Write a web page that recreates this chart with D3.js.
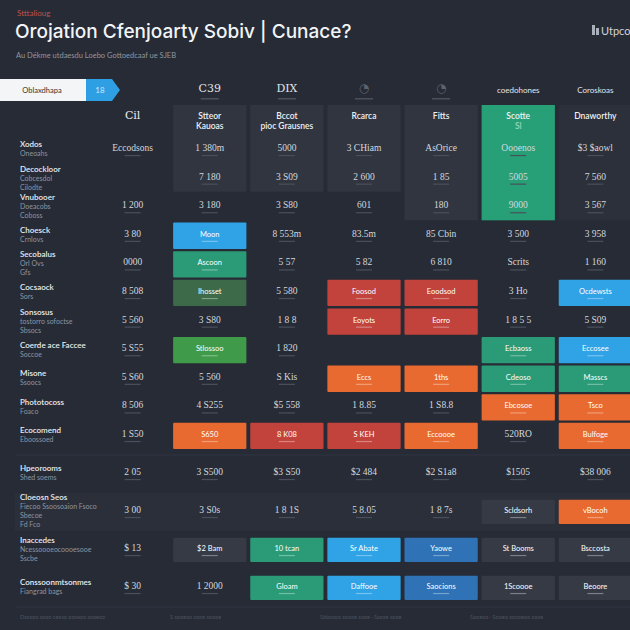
<!DOCTYPE html>
<html><head><meta charset="utf-8">
<script src="https://cdn.jsdelivr.net/npm/d3@7"></script>
<style>html,body{margin:0;padding:0;background:#262b36;}svg{display:block;}</style>
</head><body><div id="chart"></div>
<script>
// ---------- data ----------
const colNames = ["Cil", "Stteor|Kauoas", "Bccot|pioc Grausnes", "Rcarca", "Fitts", "Scotte|Sl", "Dnaworthy"];
const colTopLabels = ["", "C39", "DIX", "◔", "◔", "coedohones", "Coroskoas"];
const rowLabels = [
  ["Xodos", "Oneoahs"],
  ["Decockloor", "Cobcesdol", "Cilodte"],
  ["Vnubooer", "Doeacobs", "Coboss"],
  ["Choesck", "Crnlovs"],
  ["Secobalus", "Orl Ovs", "Gfs"],
  ["Cocsaock", "Sors"],
  ["Sonsosus", "tostorro sofoctse", "Sbsocs"],
  ["Coerde ace Faccee", "Soccoe"],
  ["Misone", "Ssoocs"],
  ["Phototocoss", "Foaco"],
  ["Ecocomend", "Eboossoed"],
  ["Hpeorooms", "Shed soems"],
  ["Cloeosn Seos", "Fiecoo Ssoosoaion Fsoco", "Sbecoe", "Fd Fco"],
  ["Inaccedes", "Ncessoooeocoooesooe", "Sscbe"],
  ["Conssoonmtsonmes", "Fiangrad bags"]
];
const cellValues = [
  ["Eccodsons", "1 380m", "5000", "3 CHiam", "AsOrice", "Oooenos", "$3 $aowl"],
  ["", "7 180", "3 S09", "2 600", "1 85", "5005", "7 560"],
  ["1 200", "3 180", "3 S80", "601", "180", "9000", "3 567"],
  ["3 80", "Moon", "8 553m", "83.5m", "85 Cbin", "3 500", "3 958"],
  ["0000", "Ascoon", "5 57", "5 82", "6 810", "Scrits", "1 160"],
  ["8 508", "Ihosset", "5 580", "Foosod", "Eoodsod", "3 Ho", "Ocdewsts"],
  ["5 560", "3 S80", "1 8 8", "Eoyots", "Eorro", "1 8 5 5", "5 S09"],
  ["5 S55", "Stlossoo", "1 820", "", "", "Ecbaoss", "Eccosee"],
  ["5 S60", "5 560", "S Kis", "Eccs", "1ths", "Cdeoso", "Masscs"],
  ["8 506", "4 S255", "$5 558", "1 8.85", "1 S8.8", "Ebcosoe", "Tsco"],
  ["1 S50", "S650", "8 K08", "S KEH", "Eccoooe", "520RO", "Bulfoge"],
  ["2 05", "3 S500", "$3 S50", "$2 484", "$2 S1a8", "$1505", "$38 006"],
  ["3 00", "3 S0s", "1 8 1S", "5 8.05", "1 8 7s", "Scldsorh", "vBocoh"],
  ["$ 13", "$2 Bam", "10 tcan", "Sr Abate", "Yaowe", "St Booms", "Bsccosta"],
  ["$ 30", "1 2000", "Gloam", "Daffooe", "Saocions", "1Scoooe", "Beoore"]
];
const cellFills = [
  ["", "p", "p", "p", "p", "G", "p2"],
  ["", "p", "p", "p", "p", "G", "p2"],
  ["", "", "", "", "p", "G", "p2"],
  ["", "b", "", "", "", "", ""],
  ["", "g", "", "", "", "", ""],
  ["", "dg", "", "r", "r", "", "b"],
  ["", "", "", "r", "r", "", ""],
  ["", "lg", "", "", "", "g", "b"],
  ["", "", "", "o", "o", "g", "g"],
  ["", "", "", "", "", "o", "o"],
  ["", "o", "r", "r", "o", "", "o"],
  ["", "", "", "", "", "", ""],
  ["", "", "", "", "", "k", "o"],
  ["", "k", "g", "b", "db", "k", "k"],
  ["", "", "g", "b", "db", "k", "k"]
];
const titleText = "Orojation Cfenjoarty Sobiv | Cunace?";
const kickerText = "Stttalioug";
const subtitleText = "Au Dékme utdaesdu Loebo Gottoedcaaf ue SJEB";
const toggleLabels = ["Oblaxdhapa", "18"];
const logoText = "Utpco";
const footerText = ["Dsosoo sooo ceoso ooseoo sooeoo", "S sooeoo sooe soooe", "Sbbosoo soooe sooe · Ssooe sooe", "Sooeoo · Sooeo soooeoo sooe"];

// ---------- styles ----------
const palette = {
  p: "#30353f", p2: "#2b303b", G: "#27a077",
  b: "#2fa3e6", g: "#2a9b76", dg: "#3d6a48", lg: "#3f9a4a",
  r: "#c2433c", o: "#e96a30", db: "#2f72b6", k: "#353a45"
};
const panelCodes = new Set(["p", "p2", "G"]);
const W = 630, H = 630;
const font = "Lato, 'Open Sans', sans-serif";
const valFont = "'Liberation Serif', 'DejaVu Serif', serif";

const svg = d3.select("#chart").append("svg").attr("width", W).attr("height", H);
svg.append("rect").attr("width", W).attr("height", H).attr("fill", "#262b36");

const rowKeys = rowLabels.map((d, i) => "r" + i);
const x = d3.scaleBand().domain(colNames).range([96, 632]).paddingInner(0.05);
const yTop = d3.scaleBand().domain(rowKeys.slice(0, 11)).range([136.8, 449.1]).paddingInner(0.08);
const yBot = d3.scaleBand().domain(rowKeys.slice(11)).range([461.8, 600.1]).paddingInner(0.36);
const yOf = k => yTop.domain().includes(k) ? yTop(k) : yBot(k);
const bwOf = k => yTop.domain().includes(k) ? yTop.bandwidth() : yBot.bandwidth();
const yc = k => yOf(k) + bwOf(k) / 2;

// ---------- header ----------
svg.append("text").attr("x", 17).attr("y", 16).attr("fill", "#c0524a").attr("font-size", 8).attr("font-family", font).text(kickerText);
svg.append("text").attr("x", 15).attr("y", 38).attr("fill", "#f2f4f7").attr("font-size", 19).attr("font-weight", 500)
  .attr("font-family", "Inter, 'Open Sans', sans-serif").text(titleText);
svg.append("text").attr("x", 16).attr("y", 58).attr("fill", "#9097a3").attr("font-size", 7.5).attr("font-family", font).text(subtitleText);
// logo
const logo = svg.append("g").attr("transform", "translate(592,33)");
logo.append("rect").attr("x", 0).attr("y", -8).attr("width", 3).attr("height", 10).attr("fill", "#aab0ba");
logo.append("rect").attr("x", 4).attr("y", -5).attr("width", 3).attr("height", 7).attr("fill", "#aab0ba");
logo.append("text").attr("x", 9).attr("y", 2).attr("fill", "#d0d4db").attr("font-size", 11).attr("font-family", font).text(logoText);

// toggle
svg.append("rect").attr("x", 0).attr("y", 79).attr("width", 86).attr("height", 22).attr("fill", "#f4f5f7");
svg.append("path").attr("d", "M86,79 H112 L120,90 L112,101 H86 Z").attr("fill", "#2f9fe4");
svg.append("text").attr("x", 42).attr("y", 93).attr("text-anchor", "middle").attr("fill", "#333").attr("font-size", 7.5).attr("font-family", font).text(toggleLabels[0]);
svg.append("text").attr("x", 100).attr("y", 93).attr("text-anchor", "middle").attr("fill", "#cfe9fb").attr("font-size", 8).attr("font-family", font).text(toggleLabels[1]);

// top labels row
colNames.forEach((c, i) => {
  const lbl = colTopLabels[i];
  if (!lbl) return;
  const cx = x(c) + x.bandwidth() / 2;
  const isIcon = lbl === "◔";
  const small = lbl.length > 4;
  svg.append("text").attr("x", cx).attr("y", small ? 93 : 92).attr("text-anchor", "middle")
    .attr("fill", isIcon ? "#5d636e" : "#e2e5ea").attr("font-size", isIcon ? 12 : (small ? 8 : 11))
    .attr("font-family", small ? font : "'DejaVu Serif', serif").text(lbl);
  if (!small) svg.append("rect").attr("x", cx - 9).attr("y", 98).attr("width", 18).attr("height", 1.5).attr("fill", "#4a505b");
});

// ---------- top blocks (panels) ----------
colNames.forEach((c, ci) => {
  let last = -1;
  const code = cellFills[0][ci];
  if (!panelCodes.has(code)) return;
  for (let r = 0; r < cellFills.length; r++) { if (cellFills[r][ci] === code) last = r; else break; }
  const bottom = yOf(rowKeys[last]) + bwOf(rowKeys[last]);
  svg.append("rect").attr("x", x(c)).attr("y", 105).attr("width", x.bandwidth()).attr("height", bottom - 105)
    .attr("fill", palette[code]);
});

// bottom section band
svg.append("rect").attr("x", 15).attr("y", yOf("r12") - 7).attr("width", 615).attr("height", bwOf("r12") + 14).attr("fill", "#2a2f3a");
svg.append("line").attr("x1", 15).attr("x2", 630).attr("y1", 455).attr("y2", 455).attr("stroke", "#2f3440");
svg.append("line").attr("x1", 15).attr("x2", 630).attr("y1", 607).attr("y2", 607).attr("stroke", "#2f3440");

// column names
colNames.forEach((c, ci) => {
  const cx = x(c) + x.bandwidth() / 2;
  const parts = c.split("|");
  parts.forEach((p, j) => {
    svg.append("text").attr("x", cx).attr("y", 119 + j * 10).attr("text-anchor", "middle")
      .attr("fill", ci === 5 && j > 0 ? "#8fd8bd" : "#eef0f3")
      .attr("font-size", ci === 0 ? 11 : 8.5).attr("font-weight", ci === 0 ? 400 : 600)
      .attr("font-family", ci === 0 ? "'DejaVu Serif', serif" : font).text(p);
  });
});

// ---------- cells ----------
rowKeys.forEach((rk, ri) => {
  colNames.forEach((c, ci) => {
    const code = cellFills[ri][ci];
    const filled = code && !panelCodes.has(code);
    if (filled) {
      svg.append("rect").attr("x", x(c)).attr("y", yOf(rk)).attr("width", x.bandwidth()).attr("height", bwOf(rk))
        .attr("rx", 1).attr("fill", palette[code]);
    }
    const v = cellValues[ri][ci];
    if (!v) return;
    const cx = x(c) + x.bandwidth() / 2;
    const cy = yc(rk);
    svg.append("text").attr("x", cx).attr("y", cy + 1).attr("text-anchor", "middle")
      .attr("fill", filled ? "#ffffff" : "#d4d8df").attr("font-size", filled ? 7.5 : 9.5)
      .attr("font-family", filled ? font : valFont).text(v);
    svg.append("rect").attr("x", cx - 8).attr("y", cy + 5).attr("width", 16).attr("height", 1.2)
      .attr("fill", filled ? "rgba(255,255,255,0.35)" : "#4a505b");
  });
});

// ---------- row labels ----------
rowKeys.forEach((rk, ri) => {
  const lines = rowLabels[ri];
  const cy = yc(rk);
  const start = cy - (lines.length - 1) * 9 / 2 + 2;
  lines.forEach((l, j) => {
    svg.append("text").attr("x", 20).attr("y", start + j * 9)
      .attr("fill", j === 0 ? "#e9ecf0" : "#8e95a1").attr("font-size", j === 0 ? 8 : 7)
      .attr("font-weight", j === 0 ? 600 : 400).attr("font-family", font).text(l);
  });
});

// footer
footerText.forEach((t, i) => {
  svg.append("text").attr("x", 20 + i * 150).attr("y", 619).attr("fill", "#4d535e").attr("font-size", 5.5).attr("font-family", font).text(t);
});
</script></body></html>
